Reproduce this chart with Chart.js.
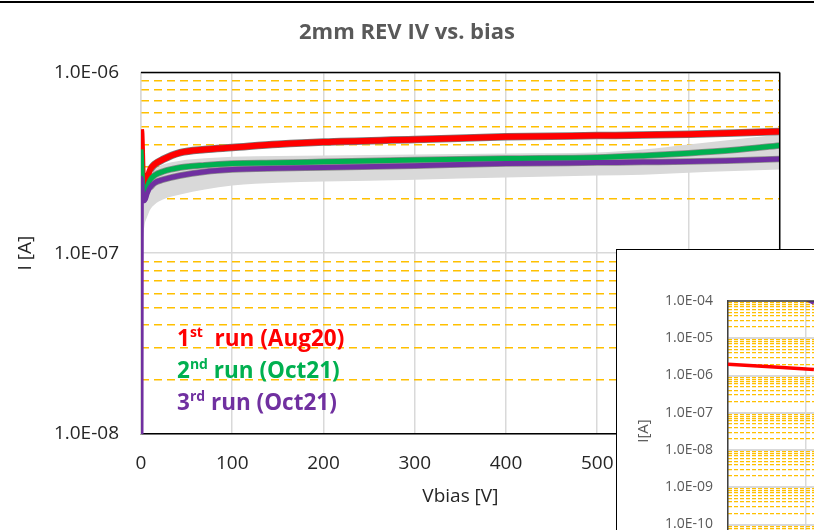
<!DOCTYPE html>
<html>
<head>
<meta charset="utf-8">
<script src="https://cdn.jsdelivr.net/npm/chart.js@4.4.0/dist/chart.umd.min.js"></script>
<style>
  html, body { margin: 0; padding: 0; width: 814px; height: 530px; overflow: hidden; background: #fff; font-family: "Open Sans", sans-serif; }
  #main { position: absolute; left: 0; top: 0; }
  #topline { position: absolute; left: 0; top: 1px; width: 814px; height: 2px; background: #000; }
  .run { position: absolute; left: 177px; font-weight: bold; font-size: 22.5px; line-height: 26px; white-space: nowrap; }
  .run sup { font-size: 14px; vertical-align: 9px; line-height: 0; }
  #inset { position: absolute; left: 616px; top: 249px; width: 300px; height: 300px; border-left: 1px solid #000; border-top: 1px solid #000; background: #fff; overflow: hidden; }
  #insetCanvas { position: absolute; left: 0; top: 0; }
  #insetTitle { position: absolute; left: 5px; top: 171px; width: 40px; text-align: center; font-size: 15px; color: #595959; transform: rotate(-90deg); }
</style>
</head>
<body>
<canvas id="main" width="814" height="530"></canvas>
<div id="topline"></div>
<div class="run" style="top:325px;color:#ff0000">1<sup>st</sup>&nbsp; run (Aug20)</div>
<div class="run" style="top:357px;color:#00b050">2<sup>nd</sup> run (Oct21)</div>
<div class="run" style="top:389px;color:#7030a0">3<sup>rd</sup> run (Oct21)</div>
<div id="inset">
  <canvas id="insetCanvas" width="900" height="400"></canvas>
  <div id="insetTitle">I[A]</div>
</div>
<script>
// bias voltage [V] shared by the three runs
const vbias = [0, 0.5, 2, 4, 7, 10, 15, 24, 43, 70, 100, 150, 200, 300, 400, 500, 550, 600, 650, 700];
// current [A]
const run1Aug20 = [4.85e-7, 4.6e-7, 2.6e-7, 2.3e-7, 2.6e-7, 2.9e-7, 3.1e-7, 3.3e-7, 3.6e-7, 3.75e-7, 3.84e-7, 4.0e-7, 4.12e-7, 4.25e-7, 4.4e-7, 4.47e-7, 4.5e-7, 4.55e-7, 4.62e-7, 4.71e-7];
const run2Oct21 = [3.75e-7, 3.4e-7, 2.3e-7, 2.1e-7, 2.35e-7, 2.55e-7, 2.7e-7, 2.83e-7, 2.98e-7, 3.07e-7, 3.13e-7, 3.16e-7, 3.2e-7, 3.28e-7, 3.34e-7, 3.38e-7, 3.46e-7, 3.57e-7, 3.72e-7, 3.94e-7];
const run3Oct21 = [1e-8, 2.6e-7, 2.0e-7, 1.95e-7, 2.15e-7, 2.31e-7, 2.45e-7, 2.55e-7, 2.69e-7, 2.82e-7, 2.9e-7, 2.95e-7, 2.98e-7, 3.05e-7, 3.13e-7, 3.17e-7, 3.19e-7, 3.21e-7, 3.26e-7, 3.32e-7];
// grey error spread
const spreadV = [2, 4, 7, 10, 15, 24, 43, 70, 100, 150, 200, 300, 400, 500, 550, 600, 650, 700];
const spreadHigh = [2.3e-7, 2.11e-7, 2.45e-7, 2.72e-7, 2.9e-7, 3.09e-7, 3.25e-7, 3.35e-7, 3.42e-7, 3.45e-7, 3.47e-7, 3.51e-7, 3.56e-7, 3.6e-7, 3.74e-7, 3.99e-7, 4.25e-7, 4.53e-7];
const spreadLow = [1.2e-7, 1.44e-7, 1.6e-7, 1.74e-7, 1.86e-7, 1.98e-7, 2.11e-7, 2.25e-7, 2.37e-7, 2.45e-7, 2.49e-7, 2.55e-7, 2.62e-7, 2.69e-7, 2.72e-7, 2.79e-7, 2.85e-7, 2.9e-7];
const yDecades = [1e-8, 1e-7, 1e-6];

// inset (only the left edge is visible)
const insetV1 = [0, 110];
const insetRun1 = [2.0e-6, 1.45e-6];
const insetV3 = [93, 110];
const insetRun3 = [1.3e-4, 8.8e-5];
const insetDecades = [1e-12, 1e-11, 1e-10, 1e-9, 1e-8, 1e-7, 1e-6, 1e-5, 1e-4];

const RED = '#ff0000', GREEN = '#00b050', PURPLE = '#7030a0';
Chart.defaults.font.family = '"Open Sans", sans-serif';

function pts(xs, ys) { return xs.map((x, i) => ({x: x, y: ys[i]})); }
function fmtE(v) {
  const e = Math.round(Math.log10(v));
  return '1.0E' + (e < 0 ? '-' : '+') + String(Math.abs(e)).padStart(2, '0');
}
function minors(decs) {
  const out = [];
  decs.slice(0, -1).forEach(d => { for (let m = 2; m <= 9; m++) out.push(d * m); });
  return out;
}
function line(xs, ys, color, w) {
  return { data: pts(xs, ys), borderColor: color, backgroundColor: color, borderWidth: w,
           pointRadius: 0, fill: false, cubicInterpolationMode: 'monotone', yAxisID: 'y' };
}

// black frame lines on chosen sides of the plot area
const frame = {
  id: 'frame',
  afterDatasetsDraw(chart, args, opts) {
    const a = chart.chartArea, ctx = chart.ctx;
    ctx.save();
    ctx.strokeStyle = opts.color;
    ctx.lineWidth = opts.width;
    ctx.beginPath();
    if (opts.sides.includes('top')) { ctx.moveTo(a.left, a.top); ctx.lineTo(a.right, a.top); }
    if (opts.sides.includes('right')) { ctx.moveTo(a.right, a.top); ctx.lineTo(a.right, a.bottom); }
    ctx.stroke();
    ctx.restore();
  }
};

const bandHigh = { data: pts(spreadV, spreadHigh), borderWidth: 0, pointRadius: 0, backgroundColor: '#d9d9d9',
                   fill: '+1', cubicInterpolationMode: 'monotone', yAxisID: 'y' };
const bandLow = { data: pts(spreadV, spreadLow), borderWidth: 0, pointRadius: 0, fill: false,
                  cubicInterpolationMode: 'monotone', yAxisID: 'y' };

new Chart(document.getElementById('main'), {
  type: 'line',
  data: {
    datasets: [
      line(vbias, run3Oct21, PURPLE, 5),
      line(vbias, run2Oct21, GREEN, 5),
      line(vbias, run1Aug20, RED, 6),
      line(vbias.slice(5), run3Oct21.slice(5), '#8c8c8c', 6.5),
      line(vbias.slice(5), run2Oct21.slice(5), '#8c8c8c', 6.5),
      line(vbias.slice(5), run1Aug20.slice(5), '#7a7a7a', 7.5),
      bandHigh,
      bandLow
    ]
  },
  options: {
    responsive: false,
    animation: false,
    layout: { padding: { left: 0, right: 0, top: 0, bottom: 0 } },
    plugins: {
      legend: { display: false },
      tooltip: { enabled: false },
      title: { display: true, text: '2mm REV IV vs. bias', color: '#595959',
               font: { size: 22, weight: 'bold' }, padding: { top: 20, bottom: 26 } },
      frame: { color: '#000', width: 1.5, sides: ['top', 'right'] }
    },
    scales: {
      x: {
        type: 'linear', min: 0, max: 700,
        ticks: { stepSize: 100, color: '#262626', font: { size: 19 }, padding: 18, maxRotation: 0 },
        grid: { color: '#d9d9d9', lineWidth: 1.5, drawTicks: false },
        border: { color: '#000', width: 1.5 },
        title: { display: true, text: 'Vbias [V]', color: '#262626', font: { size: 19 }, padding: { top: 4, bottom: 22 } },
        afterFit(s) { s.height = 96; }
      },
      y: {
        type: 'logarithmic', min: 1e-8, max: 1e-6,
        afterBuildTicks(s) { s.ticks = yDecades.map(v => ({ value: v, major: true })); },
        ticks: { callback: v => fmtE(v), color: '#262626', font: { size: 19 }, padding: 22 },
        grid: { color: '#d9d9d9', lineWidth: 1.5, drawTicks: false },
        border: { color: '#d9d9d9', width: 1.5 },
        title: { display: true, text: 'I [A]', color: '#262626', font: { size: 19 }, padding: { top: 14, bottom: 0 } },
        afterFit(s) { s.width = 141; }
      },
      yMinor: {
        type: 'logarithmic', min: 1e-8, max: 1e-6, position: 'right',
        afterBuildTicks(s) { s.ticks = minors(yDecades).map(v => ({ value: v })); },
        ticks: { display: false },
        grid: { color: '#ffc000', lineWidth: 1.5, drawTicks: false },
        border: { display: false, dash: [8, 5] },
        afterFit(s) { s.width = 31; }
      }
    }
  },
  plugins: [frame]
});

new Chart(document.getElementById('insetCanvas'), {
  type: 'line',
  data: {
    datasets: [
      line(insetV3, insetRun3, PURPLE, 3.5),
      line(insetV1, insetRun1, RED, 3.5)
    ]
  },
  options: {
    responsive: false,
    animation: false,
    layout: { padding: { left: 0, right: 8, top: 51, bottom: 51 } },
    plugins: {
      legend: { display: false },
      tooltip: { enabled: false },
      frame: { color: '#404040', width: 1.5, sides: ['top'] }
    },
    scales: {
      x: {
        type: 'linear', min: 0, max: 1000,
        ticks: { stepSize: 100, display: false },
        grid: { color: '#d9d9d9', lineWidth: 1.5, drawTicks: false },
        border: { display: false },
        afterFit(s) { s.height = 0; }
      },
      y: {
        type: 'logarithmic', min: 1e-12, max: 1e-4,
        afterBuildTicks(s) { s.ticks = insetDecades.map(v => ({ value: v, major: true })); },
        ticks: { callback: v => fmtE(v), color: '#595959', font: { size: 14 }, padding: 15 },
        grid: { color: '#d9d9d9', lineWidth: 2, drawTicks: false },
        border: { color: '#404040', width: 1.5 },
        afterFit(s) { s.width = 111; }
      },
      yMinor: {
        type: 'logarithmic', min: 1e-12, max: 1e-4, position: 'right',
        afterBuildTicks(s) { s.ticks = minors(insetDecades).map(v => ({ value: v })); },
        ticks: { display: false },
        grid: { color: '#ffc000', lineWidth: 1.2, drawTicks: false },
        border: { display: false, dash: [4, 2] },
        afterFit(s) { s.width = 0; }
      }
    }
  },
  plugins: [frame]
});
</script>
</body>
</html>
